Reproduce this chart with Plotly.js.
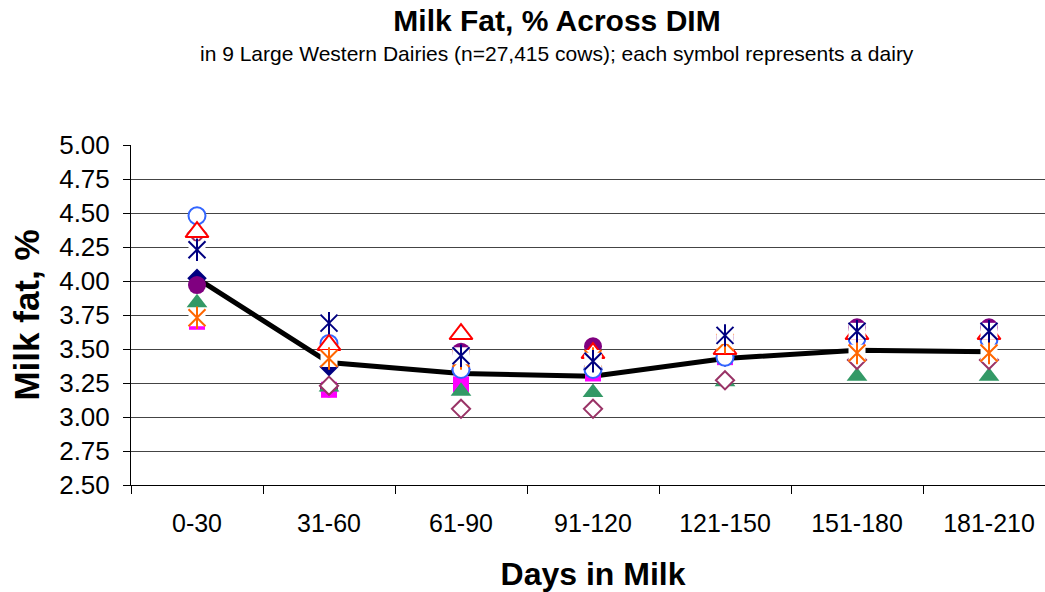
<!DOCTYPE html>
<html>
<head>
<meta charset="utf-8">
<script src="https://cdn.plot.ly/plotly-3.0.1.min.js"></script>
<style>
  html, body { margin: 0; padding: 0; background: #fff; overflow: hidden; }
  #chart { width: 1060px; height: 592px; }
</style>
</head>
<body>
<div id="chart"></div>
<script>
// Categories (Days in Milk)
const categories = ['0-30', '31-60', '61-90', '91-120', '121-150', '151-180', '181-210'];

// Overall average line
const averageFat = [4.02, 3.40, 3.32, 3.30, 3.43, 3.49, 3.48];

// One series per dairy (named by its symbol)
const blueCircle    = [4.48, 3.54, 3.35, 3.35, 3.44, 3.58, 3.57];
const redTriangle   = [4.36, 3.53, 3.61, 3.47, 3.50, 3.61, 3.61];
const mauveDiamond  = [4.35, 3.23, 3.06, 3.06, 3.27, 3.42, 3.42];
const navyStar      = [4.23, 3.69, 3.45, 3.41, 3.60, 3.63, 3.63];
const orangeStar    = [3.73, 3.43, 3.43, 3.43, 3.55, 3.47, 3.47];
const magentaSquare = [3.70, 3.20, 3.24, 3.32, 3.44, 3.50, 3.49];
const navyDiamond   = [4.02, 3.37, 3.35, 3.35, 3.44, 3.58, 3.57];
const purpleCircle  = [3.97, 3.21, 3.48, 3.52, 3.58, 3.66, 3.66];
const greenTriangle = [3.84, 3.22, 3.19, 3.18, 3.26, 3.30, 3.30];

const yTicks = [2.50, 2.75, 3.00, 3.25, 3.50, 3.75, 4.00, 4.25, 4.50, 4.75, 5.00];

const titleText = 'Milk Fat, % Across DIM';
const subtitleText = 'in 9 Large Western Dairies (n=27,415 cows); each symbol represents a dairy';

function pts(name, y, marker) {
  return { type: 'scatter', mode: 'markers', name: name, x: categories, y: y,
           marker: marker, showlegend: false, cliponaxis: false, hoverinfo: 'x+y+name' };
}
function star(name, y, color) {
  return [
    pts(name, y, { symbol: 'square', size: 17, color: '#ffffff', line: { width: 0 } }),
    pts(name, y, { symbol: 'x-thin-open', size: 17, color: color, line: { color: color, width: 2 } }),
    pts(name, y, { symbol: 'line-ns-open', size: 16, color: color, line: { color: color, width: 2 } })
  ];
}

const traces = [
  { type: 'scatter', mode: 'lines', name: 'Average', x: categories, y: averageFat,
    line: { color: '#000000', width: 5 }, showlegend: false },
  pts('Dairy (navy diamond)', navyDiamond, { symbol: 'diamond', size: 15, color: '#000080', line: { width: 0 } }),
  pts('Dairy (purple circle)', purpleCircle, { symbol: 'circle', size: 18, color: '#800080', line: { width: 0 } }),
  pts('Dairy (magenta square)', magentaSquare, { symbol: 'square', size: 16, color: '#FF00FF', line: { width: 0 } }),
  pts('Dairy (green triangle)', greenTriangle, { symbol: 'triangle-up', size: 18, color: '#339966', line: { width: 0 } }),
  pts('Dairy (mauve diamond)', mauveDiamond, { symbol: 'diamond', size: 14, color: '#ffffff', line: { color: '#993366', width: 2 } }),
  pts('Dairy (blue circle)', blueCircle, { symbol: 'circle', size: 17, color: '#ffffff', line: { color: '#3366FF', width: 2 } }),
  pts('Dairy (red triangle)', redTriangle, { symbol: 'triangle-up', size: 20, color: '#ffffff', line: { color: '#FF0000', width: 2 } })
].concat(star('Dairy (orange star)', orangeStar, '#FF6600'))
 .concat(star('Dairy (navy star)', navyStar, '#000080'));

const layout = {
  width: 1060, height: 592,
  margin: { l: 131, r: 5, t: 145, b: 107 },
  paper_bgcolor: '#ffffff', plot_bgcolor: '#ffffff',
  font: { family: 'Liberation Sans, Arial, sans-serif', color: '#000000' },
  title: {
    text: '<b>' + titleText + '</b>',
    font: { size: 30, color: '#000000' },
    x: 557 / 1060, xanchor: 'center', xref: 'container',
    y: 1 - 20 / 592, yanchor: 'middle', yref: 'container'
  },
  annotations: [{
    text: subtitleText, showarrow: false,
    xref: 'paper', yref: 'paper',
    x: (557 - 131) / 924, y: 1 + (145 - 53) / 340, xanchor: 'center', yanchor: 'middle',
    font: { size: 21, color: '#000000' }
  }],
  xaxis: {
    type: 'category', range: [-0.5, 6.5],
    tickson: 'boundaries', ticks: 'outside', ticklen: 8, tickcolor: '#000000', tickwidth: 1,
    showline: true, linecolor: '#000000', linewidth: 1,
    showgrid: false, zeroline: false,
    tickfont: { size: 25 }, ticklabelstandoff: 16,
    title: { text: '<b>Days in Milk</b>', font: { size: 32 }, standoff: 27 }
  },
  yaxis: {
    range: [2.5, 5.0], tickvals: yTicks, ticktext: yTicks.map(v => v.toFixed(2)),
    ticks: 'outside', ticklen: 7, tickcolor: '#000000', tickwidth: 1,
    showline: true, linecolor: '#000000', linewidth: 1,
    showgrid: true, gridcolor: '#444444', gridwidth: 1, zeroline: false,
    tickfont: { size: 26 }, ticklabelstandoff: 8,
    title: { text: '<b>Milk fat, %</b>', font: { size: 35 }, standoff: 8 }
  }
};

Plotly.newPlot('chart', traces, layout, { displayModeBar: false, staticPlot: true });
</script>
</body>
</html>
